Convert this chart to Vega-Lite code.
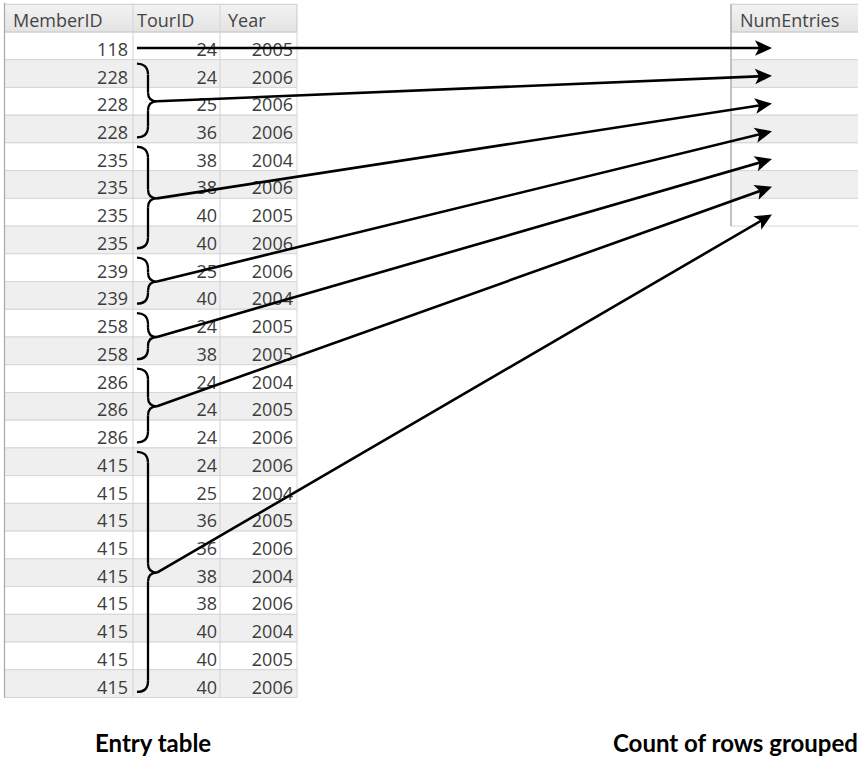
{
  "$schema": "https://vega.github.io/schema/vega-lite/v6.json",
  "width": 858,
  "height": 758,
  "autosize": {"type": "none"},
  "padding": 0,
  "background": "#ffffff",
  "config": {"view": {"stroke": null}, "axis": {"disable": true}},
  "datasets": {
    "entries": [
      {"MemberID": 118, "TourID": 24, "Year": 2005},
      {"MemberID": 228, "TourID": 24, "Year": 2006},
      {"MemberID": 228, "TourID": 25, "Year": 2006},
      {"MemberID": 228, "TourID": 36, "Year": 2006},
      {"MemberID": 235, "TourID": 38, "Year": 2004},
      {"MemberID": 235, "TourID": 38, "Year": 2006},
      {"MemberID": 235, "TourID": 40, "Year": 2005},
      {"MemberID": 235, "TourID": 40, "Year": 2006},
      {"MemberID": 239, "TourID": 25, "Year": 2006},
      {"MemberID": 239, "TourID": 40, "Year": 2004},
      {"MemberID": 258, "TourID": 24, "Year": 2005},
      {"MemberID": 258, "TourID": 38, "Year": 2005},
      {"MemberID": 286, "TourID": 24, "Year": 2004},
      {"MemberID": 286, "TourID": 24, "Year": 2005},
      {"MemberID": 286, "TourID": 24, "Year": 2006},
      {"MemberID": 415, "TourID": 24, "Year": 2006},
      {"MemberID": 415, "TourID": 25, "Year": 2004},
      {"MemberID": 415, "TourID": 36, "Year": 2005},
      {"MemberID": 415, "TourID": 36, "Year": 2006},
      {"MemberID": 415, "TourID": 38, "Year": 2004},
      {"MemberID": 415, "TourID": 38, "Year": 2006},
      {"MemberID": 415, "TourID": 40, "Year": 2004},
      {"MemberID": 415, "TourID": 40, "Year": 2005},
      {"MemberID": 415, "TourID": 40, "Year": 2006}
    ]
  },
  "layer": [
    {
      "data": {"name": "entries"},
      "transform": [
        {"window": [{"op": "row_number", "as": "row"}]},
        {"calculate": "datum.row - 0.5", "as": "r0"},
        {"calculate": "datum.row + 0.5", "as": "r1"}
      ],
      "mark": {"type": "rect", "stroke": "#d6d6d6", "strokeWidth": 1},
      "encoding": {
        "x": {"datum": 4.5, "type": "quantitative", "scale": {"domain": [0, 858], "nice": false, "zero": false}},
        "x2": {"datum": 297},
        "y": {"field": "r0", "type": "quantitative", "scale": {"domain": [-0.6527, 26.682], "reverse": true, "nice": false, "zero": false}},
        "y2": {"field": "r1"},
        "fill": {"condition": {"test": "datum.row % 2 == 0", "value": "#efefef"}, "value": "#ffffff"}
      }
    },
    {
      "data": {"values": [{"h": "header"}]},
      "mark": {"type": "rect", "stroke": "#c9c9c9", "strokeWidth": 1,
        "fill": {"gradient": "linear", "x1": 0, "y1": 0, "x2": 0, "y2": 1, "stops": [{"offset": 0, "color": "#f3f3f3"}, {"offset": 1, "color": "#e3e3e3"}]}},
      "encoding": {
        "x": {"datum": 4.5, "type": "quantitative", "scale": {"domain": [0, 858], "nice": false, "zero": false}},
        "x2": {"datum": 297},
        "y": {"datum": -0.5, "type": "quantitative", "scale": {"domain": [-0.6527, 26.682], "reverse": true, "nice": false, "zero": false}},
        "y2": {"datum": 0.5}
      }
    },
    {
      "data": {"values": [{"c": 1}]},
      "mark": {"type": "rule", "stroke": "#d2d2d2", "strokeWidth": 1},
      "encoding": {
        "x": {"datum": 133, "type": "quantitative", "scale": {"domain": [0, 858], "nice": false, "zero": false}},
        "y": {"datum": -0.5, "type": "quantitative", "scale": {"domain": [-0.6527, 26.682], "reverse": true, "nice": false, "zero": false}},
        "y2": {"datum": 24.5}
      }
    },
    {
      "data": {"values": [{"c": 2}]},
      "mark": {"type": "rule", "stroke": "#d2d2d2", "strokeWidth": 1},
      "encoding": {
        "x": {"datum": 220, "type": "quantitative", "scale": {"domain": [0, 858], "nice": false, "zero": false}},
        "y": {"datum": -0.5, "type": "quantitative", "scale": {"domain": [-0.6527, 26.682], "reverse": true, "nice": false, "zero": false}},
        "y2": {"datum": 24.5}
      }
    },
    {
      "data": {"values": [{"c": 3}]},
      "mark": {"type": "rule", "stroke": "#a8a8a8", "strokeWidth": 1.2},
      "encoding": {
        "x": {"datum": 4.5, "type": "quantitative", "scale": {"domain": [0, 858], "nice": false, "zero": false}},
        "y": {"datum": -0.55, "type": "quantitative", "scale": {"domain": [-0.6527, 26.682], "reverse": true, "nice": false, "zero": false}},
        "y2": {"datum": 24.5}
      }
    },
    {
      "data": {"values": [{"h": "MemberID"}]},
      "mark": {"type": "text", "align": "left", "baseline": "alphabetic", "dy": 8.6, "font": "Open Sans", "fontSize": 18, "color": "#444444"},
      "encoding": {
        "x": {"datum": 13, "type": "quantitative", "scale": {"domain": [0, 858], "nice": false, "zero": false}},
        "y": {"datum": 0, "type": "quantitative", "scale": {"domain": [-0.6527, 26.682], "reverse": true, "nice": false, "zero": false}},
        "text": {"field": "h", "type": "nominal"}
      }
    },
    {
      "data": {"values": [{"h": "TourID"}]},
      "mark": {"type": "text", "align": "left", "baseline": "alphabetic", "dy": 8.6, "font": "Open Sans", "fontSize": 18, "color": "#444444"},
      "encoding": {
        "x": {"datum": 137, "type": "quantitative", "scale": {"domain": [0, 858], "nice": false, "zero": false}},
        "y": {"datum": 0, "type": "quantitative", "scale": {"domain": [-0.6527, 26.682], "reverse": true, "nice": false, "zero": false}},
        "text": {"field": "h", "type": "nominal"}
      }
    },
    {
      "data": {"values": [{"h": "Year"}]},
      "mark": {"type": "text", "align": "left", "baseline": "alphabetic", "dy": 8.6, "font": "Open Sans", "fontSize": 18, "color": "#444444"},
      "encoding": {
        "x": {"datum": 228, "type": "quantitative", "scale": {"domain": [0, 858], "nice": false, "zero": false}},
        "y": {"datum": 0, "type": "quantitative", "scale": {"domain": [-0.6527, 26.682], "reverse": true, "nice": false, "zero": false}},
        "text": {"field": "h", "type": "nominal"}
      }
    },
    {
      "data": {"name": "entries"},
      "transform": [{"window": [{"op": "row_number", "as": "row"}]}],
      "mark": {"type": "text", "align": "right", "baseline": "alphabetic", "dy": 10, "font": "Open Sans", "fontSize": 18, "color": "#3c3c3c"},
      "encoding": {
        "x": {"datum": 128, "type": "quantitative", "scale": {"domain": [0, 858], "nice": false, "zero": false}},
        "y": {"field": "row", "type": "quantitative", "scale": {"domain": [-0.6527, 26.682], "reverse": true, "nice": false, "zero": false}},
        "text": {"field": "MemberID", "type": "nominal"}
      }
    },
    {
      "data": {"name": "entries"},
      "transform": [{"window": [{"op": "row_number", "as": "row"}]}],
      "mark": {"type": "text", "align": "right", "baseline": "alphabetic", "dy": 10, "font": "Open Sans", "fontSize": 18, "color": "#3c3c3c"},
      "encoding": {
        "x": {"datum": 217, "type": "quantitative", "scale": {"domain": [0, 858], "nice": false, "zero": false}},
        "y": {"field": "row", "type": "quantitative", "scale": {"domain": [-0.6527, 26.682], "reverse": true, "nice": false, "zero": false}},
        "text": {"field": "TourID", "type": "nominal"}
      }
    },
    {
      "data": {"name": "entries"},
      "transform": [{"window": [{"op": "row_number", "as": "row"}]}],
      "mark": {"type": "text", "align": "right", "baseline": "alphabetic", "dy": 10, "font": "Open Sans", "fontSize": 18, "color": "#3c3c3c"},
      "encoding": {
        "x": {"datum": 293, "type": "quantitative", "scale": {"domain": [0, 858], "nice": false, "zero": false}},
        "y": {"field": "row", "type": "quantitative", "scale": {"domain": [-0.6527, 26.682], "reverse": true, "nice": false, "zero": false}},
        "text": {"field": "Year", "type": "nominal"}
      }
    },
    {
      "data": {"name": "entries"},
      "transform": [
        {"window": [{"op": "row_number", "as": "row"}]},
        {"aggregate": [{"op": "count", "as": "n"}], "groupby": ["MemberID"]},
        {"window": [{"op": "row_number", "as": "g"}], "sort": [{"field": "MemberID"}]},
        {"calculate": "datum.g - 0.5", "as": "r0"},
        {"calculate": "datum.g + 0.5", "as": "r1"}
      ],
      "mark": {"type": "rect", "stroke": "#d6d6d6", "strokeWidth": 1},
      "encoding": {
        "x": {"datum": 731, "type": "quantitative", "scale": {"domain": [0, 858], "nice": false, "zero": false}},
        "x2": {"datum": 880},
        "y": {"field": "r0", "type": "quantitative", "scale": {"domain": [-0.6527, 26.682], "reverse": true, "nice": false, "zero": false}},
        "y2": {"field": "r1"},
        "fill": {"condition": {"test": "datum.g % 2 == 0", "value": "#efefef"}, "value": "#ffffff"}
      }
    },
    {
      "data": {"values": [{"h": "header"}]},
      "mark": {"type": "rect", "stroke": "#c9c9c9", "strokeWidth": 1,
        "fill": {"gradient": "linear", "x1": 0, "y1": 0, "x2": 0, "y2": 1, "stops": [{"offset": 0, "color": "#f3f3f3"}, {"offset": 1, "color": "#e3e3e3"}]}},
      "encoding": {
        "x": {"datum": 731, "type": "quantitative", "scale": {"domain": [0, 858], "nice": false, "zero": false}},
        "x2": {"datum": 880},
        "y": {"datum": -0.5, "type": "quantitative", "scale": {"domain": [-0.6527, 26.682], "reverse": true, "nice": false, "zero": false}},
        "y2": {"datum": 0.5}
      }
    },
    {
      "data": {"values": [{"c": 4}]},
      "mark": {"type": "rule", "stroke": "#a8a8a8", "strokeWidth": 1.2},
      "encoding": {
        "x": {"datum": 731, "type": "quantitative", "scale": {"domain": [0, 858], "nice": false, "zero": false}},
        "y": {"datum": -0.5, "type": "quantitative", "scale": {"domain": [-0.6527, 26.682], "reverse": true, "nice": false, "zero": false}},
        "y2": {"datum": 7.5}
      }
    },
    {
      "data": {"values": [{"h": "NumEntries"}]},
      "mark": {"type": "text", "align": "left", "baseline": "alphabetic", "dy": 8.6, "font": "Open Sans", "fontSize": 18, "color": "#444444"},
      "encoding": {
        "x": {"datum": 740, "type": "quantitative", "scale": {"domain": [0, 858], "nice": false, "zero": false}},
        "y": {"datum": 0, "type": "quantitative", "scale": {"domain": [-0.6527, 26.682], "reverse": true, "nice": false, "zero": false}},
        "text": {"field": "h", "type": "nominal"}
      }
    },
    {
      "data": {"name": "entries"},
      "transform": [
        {"aggregate": [{"op": "count", "as": "n"}], "groupby": ["MemberID"]},
        {"window": [{"op": "row_number", "as": "g"}], "sort": [{"field": "MemberID"}]}
      ],
      "mark": {"type": "text", "align": "right", "baseline": "alphabetic", "dy": 10, "font": "Open Sans", "fontSize": 18, "color": "#3c3c3c"},
      "encoding": {
        "x": {"datum": 868, "type": "quantitative", "scale": {"domain": [0, 858], "nice": false, "zero": false}},
        "y": {"field": "g", "type": "quantitative", "scale": {"domain": [-0.6527, 26.682], "reverse": true, "nice": false, "zero": false}},
        "text": {"field": "n", "type": "nominal"}
      }
    },
    {
      "data": {"name": "entries"},
      "transform": [
        {"window": [{"op": "row_number", "as": "row"}]},
        {"aggregate": [{"op": "count", "as": "n"}, {"op": "min", "field": "row", "as": "first"}, {"op": "max", "field": "row", "as": "last"}], "groupby": ["MemberID"]},
        {"filter": "datum.n > 1"},
        {"calculate": "(datum.first + datum.last) / 2", "as": "mid"},
        {"calculate": "datum.first - 0.36 + 0.4", "as": "u1"},
        {"calculate": "datum.mid - 0.33", "as": "u2"},
        {"calculate": "datum.mid + 0.33", "as": "l1"},
        {"calculate": "datum.last + 0.3 - 0.4", "as": "l2"}
      ],
      "layer": [
        {
          "mark": {"type": "rule", "stroke": "#000000", "strokeWidth": 2.3},
          "encoding": {
            "x": {"datum": 148, "type": "quantitative", "scale": {"domain": [0, 858], "nice": false, "zero": false}},
            "y": {"field": "u1", "type": "quantitative", "scale": {"domain": [-0.6527, 26.682], "reverse": true, "nice": false, "zero": false}},
            "y2": {"field": "u2"}
          }
        },
        {
          "mark": {"type": "rule", "stroke": "#000000", "strokeWidth": 2.3},
          "encoding": {
            "x": {"datum": 148, "type": "quantitative", "scale": {"domain": [0, 858], "nice": false, "zero": false}},
            "y": {"field": "l1", "type": "quantitative", "scale": {"domain": [-0.6527, 26.682], "reverse": true, "nice": false, "zero": false}},
            "y2": {"field": "l2"}
          }
        }
      ]
    },
    {
      "data": {"name": "entries"},
      "transform": [
        {"window": [{"op": "row_number", "as": "row"}]},
        {"aggregate": [{"op": "count", "as": "n"}, {"op": "min", "field": "row", "as": "first"}], "groupby": ["MemberID"]},
        {"filter": "datum.n > 1"},
        {"calculate": "datum.first - 0.36", "as": "top"}
      ],
      "mark": {"type": "point", "shape": "M -0.92 0 C -0.45 0 0 0.2 0 0.92", "filled": false, "opacity": 1, "stroke": "#000000", "strokeWidth": 2.3, "size": 576},
      "encoding": {
        "x": {"datum": 148, "type": "quantitative", "scale": {"domain": [0, 858], "nice": false, "zero": false}},
        "y": {"field": "top", "type": "quantitative", "scale": {"domain": [-0.6527, 26.682], "reverse": true, "nice": false, "zero": false}}
      }
    },
    {
      "data": {"name": "entries"},
      "transform": [
        {"window": [{"op": "row_number", "as": "row"}]},
        {"aggregate": [{"op": "count", "as": "n"}, {"op": "max", "field": "row", "as": "last"}], "groupby": ["MemberID"]},
        {"filter": "datum.n > 1"},
        {"calculate": "datum.last + 0.3", "as": "bot"}
      ],
      "mark": {"type": "point", "shape": "M 0 -0.92 C 0 -0.2 -0.45 0 -0.92 0", "filled": false, "opacity": 1, "stroke": "#000000", "strokeWidth": 2.3, "size": 576},
      "encoding": {
        "x": {"datum": 148, "type": "quantitative", "scale": {"domain": [0, 858], "nice": false, "zero": false}},
        "y": {"field": "bot", "type": "quantitative", "scale": {"domain": [-0.6527, 26.682], "reverse": true, "nice": false, "zero": false}}
      }
    },
    {
      "data": {"name": "entries"},
      "transform": [
        {"window": [{"op": "row_number", "as": "row"}]},
        {"aggregate": [{"op": "count", "as": "n"}, {"op": "min", "field": "row", "as": "first"}, {"op": "max", "field": "row", "as": "last"}], "groupby": ["MemberID"]},
        {"filter": "datum.n > 1"},
        {"calculate": "(datum.first + datum.last) / 2", "as": "mid"}
      ],
      "mark": {"type": "point", "shape": "M 0 -0.76 C 0 -0.2 0.3 0 0.76 0 M 0 0.76 C 0 0.2 0.3 0 0.76 0", "filled": false, "opacity": 1, "stroke": "#000000", "strokeWidth": 2.3, "size": 576},
      "encoding": {
        "x": {"datum": 148, "type": "quantitative", "scale": {"domain": [0, 858], "nice": false, "zero": false}},
        "y": {"field": "mid", "type": "quantitative", "scale": {"domain": [-0.6527, 26.682], "reverse": true, "nice": false, "zero": false}}
      }
    },
    {
      "data": {"name": "entries"},
      "transform": [
        {"window": [{"op": "row_number", "as": "row"}]},
        {"aggregate": [{"op": "count", "as": "n"}, {"op": "min", "field": "row", "as": "first"}, {"op": "max", "field": "row", "as": "last"}], "groupby": ["MemberID"]},
        {"window": [{"op": "row_number", "as": "g"}], "sort": [{"field": "MemberID"}]},
        {"calculate": "(datum.first + datum.last) / 2", "as": "mid"},
        {"calculate": "datum.n == 1 ? 137 : 157", "as": "sx"},
        {"calculate": "datum.n == 1 ? datum.first + 0.08 : datum.mid", "as": "sy"},
        {"calculate": "datum.g + 0.08", "as": "ty"},
        {"calculate": "datum.sy + (datum.ty - datum.sy) * (764 - datum.sx) / (772 - datum.sx)", "as": "ey"},
        {"calculate": "(atan2((datum.ty - datum.sy) * 27.73, 772 - datum.sx) * 180 / PI + 360) % 360", "as": "ang"}
      ],
      "layer": [
        {
          "mark": {"type": "rule", "stroke": "#000000", "strokeWidth": 2.6},
          "encoding": {
            "x": {"field": "sx", "type": "quantitative", "scale": {"domain": [0, 858], "nice": false, "zero": false}},
            "x2": {"datum": 764},
            "y": {"field": "sy", "type": "quantitative", "scale": {"domain": [-0.6527, 26.682], "reverse": true, "nice": false, "zero": false}},
            "y2": {"field": "ey"}
          }
        },
        {
          "mark": {"type": "point", "shape": "M 0 0 L -1 -0.46 L -0.76 0 L -1 0.46 Z", "filled": true, "opacity": 1, "color": "#000000", "strokeWidth": 0, "size": 1156},
          "encoding": {
            "x": {"datum": 772, "type": "quantitative", "scale": {"domain": [0, 858], "nice": false, "zero": false}},
            "y": {"field": "ty", "type": "quantitative", "scale": {"domain": [-0.6527, 26.682], "reverse": true, "nice": false, "zero": false}},
            "angle": {"field": "ang", "type": "quantitative", "scale": null}
          }
        }
      ]
    },
    {
      "data": {"values": [{"c": "Entry table"}]},
      "mark": {"type": "text", "align": "left", "baseline": "alphabetic", "font": "Lato", "fontWeight": "bold", "fontSize": 24, "color": "#000000"},
      "encoding": {
        "x": {"datum": 95, "type": "quantitative", "scale": {"domain": [0, 858], "nice": false, "zero": false}},
        "y": {"datum": 26.466, "type": "quantitative", "scale": {"domain": [-0.6527, 26.682], "reverse": true, "nice": false, "zero": false}},
        "text": {"field": "c", "type": "nominal"}
      }
    },
    {
      "data": {"values": [{"c": "Count of rows grouped by MemberID"}]},
      "mark": {"type": "text", "align": "left", "baseline": "alphabetic", "font": "Lato", "fontWeight": "bold", "fontSize": 24, "color": "#000000"},
      "encoding": {
        "x": {"datum": 613, "type": "quantitative", "scale": {"domain": [0, 858], "nice": false, "zero": false}},
        "y": {"datum": 26.466, "type": "quantitative", "scale": {"domain": [-0.6527, 26.682], "reverse": true, "nice": false, "zero": false}},
        "text": {"field": "c", "type": "nominal"}
      }
    }
  ]
}
